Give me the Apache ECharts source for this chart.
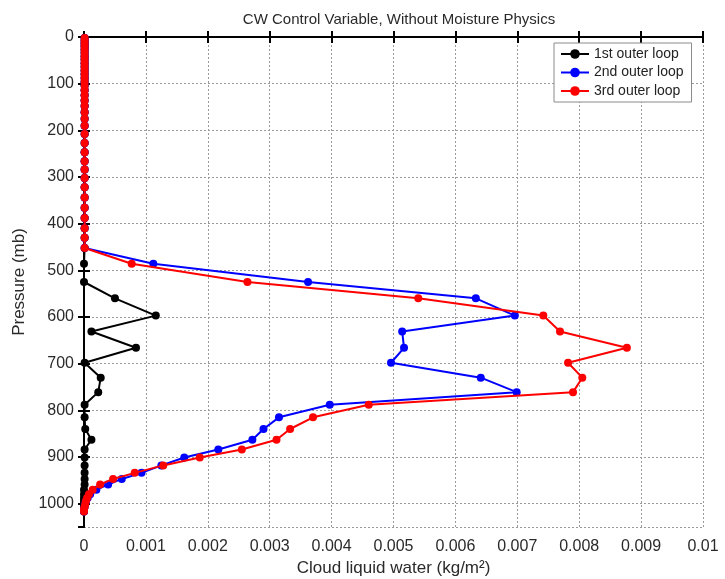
<!DOCTYPE html>
<html>
<head>
<meta charset="utf-8">
<script src="https://cdn.jsdelivr.net/npm/echarts@6/dist/echarts.min.js"></script>
<style>
  html, body { margin: 0; padding: 0; background: #fff; }
  #chart { width: 725px; height: 579px; }
</style>
</head>
<body>
<div id="chart"></div>
<script>
// Pressure levels (mb), shared by all three outer-loop profiles
const pressureLevels = [
  2, 8, 14, 20, 27, 34, 41, 48, 56, 64, 72, 80, 88, 96,
  104, 114, 125, 136, 148, 161, 175, 190, 208, 227, 247, 266, 284, 302,
  322, 344, 366, 388, 410, 430, 452,
  486, 525, 560, 597, 631, 666, 698, 730, 761, 788, 815, 840, 863, 884,
  901, 918, 934, 947, 959, 970, 980, 988, 995, 1001, 1007, 1012, 1017
];

// Cloud liquid water (kg/m^2) at each level
const loop1 = [
  0.00001, 0.00001, 0.00001, 0.00001, 0.00001, 0.00001, 0.00001, 0.00001, 0.00001, 0.00001, 0.00001, 0.00001, 0.00001, 0.00001,
  0.00001, 0.00001, 0.00001, 0.00001, 0.00001, 0.00001, 0.00001, 0.00001, 0.00001, 0.00001, 0.00001, 0.00001, 0.00001, 0.00001,
  0.00001, 0.00001, 0.00001, 0.00001, 0.00001, 0.00001, 0.00001,
  0, 0, 0.0005, 0.00116, 0.00012, 0.00084, 0.00001, 0.00027, 0.00023, 0.00001, 0.00001, 0.00002, 0.00012, 0.00001,
  0.00001, 0.00001, 0.00001, 0.00001, 0.00001, 0, 0, 0, 0, 0, 0, 0, 0
];
const loop2 = [
  0.00001, 0.00001, 0.00001, 0.00001, 0.00001, 0.00001, 0.00001, 0.00001, 0.00001, 0.00001, 0.00001, 0.00001, 0.00001, 0.00001,
  0.00001, 0.00001, 0.00001, 0.00001, 0.00001, 0.00001, 0.00001, 0.00001, 0.00001, 0.00001, 0.00001, 0.00001, 0.00001, 0.00001,
  0.00001, 0.00001, 0.00001, 0.00001, 0.00001, 0.00001, 0.00001,
  0.00112, 0.00362, 0.00633, 0.00696, 0.00514, 0.00517, 0.00496, 0.00641, 0.00699, 0.00397, 0.00315, 0.0029, 0.00272, 0.00217,
  0.00162, 0.00125, 0.00093, 0.00061, 0.00039, 0.0002, 0.0001, 0.00006, 0.00003, 0.00002, 0.00001, 0, 0
];
const loop3 = [
  0.00001, 0.00001, 0.00001, 0.00001, 0.00001, 0.00001, 0.00001, 0.00001, 0.00001, 0.00001, 0.00001, 0.00001, 0.00001, 0.00001,
  0.00001, 0.00001, 0.00001, 0.00001, 0.00001, 0.00001, 0.00001, 0.00001, 0.00001, 0.00001, 0.00001, 0.00001, 0.00001, 0.00001,
  0.00001, 0.00001, 0.00001, 0.00001, 0.00001, 0.00001, 0.00001,
  0.00077, 0.00264, 0.0054, 0.00742, 0.00769, 0.00877, 0.00782, 0.00805, 0.0079, 0.0046, 0.0037, 0.00333, 0.00311, 0.00255,
  0.00187, 0.00128, 0.00082, 0.00047, 0.00026, 0.00014, 0.00008, 0.00005, 0.00003, 0.00002, 0.00001, 0, 0
];

const seriesNames = ['1st outer loop', '2nd outer loop', '3rd outer loop'];
const seriesColors = ['#000000', '#0000ff', '#ff0000'];
const seriesValues = [loop1, loop2, loop3];

const FONT = '"Liberation Sans", Arial, Helvetica, sans-serif';

function profile(values) {
  return values.map((v, i) => [v, pressureLevels[i]]);
}

const gridStyle = { show: true, lineStyle: { color: '#9a9a9a', type: [2, 2], width: 1 } };
const frameLine = { show: true, lineStyle: { color: '#000', width: 2 } };
const innerTick = { show: true, inside: true, length: 6, lineStyle: { color: '#000', width: 2 } };

const chart = echarts.init(document.getElementById('chart'));
chart.setOption({
  animation: false,
  backgroundColor: '#fff',
  title: {
    text: 'CW Control Variable, Without Moisture Physics',
    left: 394,
    top: 7,
    textAlign: 'center',
    textStyle: { fontFamily: FONT, fontSize: 15, fontWeight: 'normal', color: '#2a2a2a' }
  },
  grid: { left: 84, right: 22, top: 37, bottom: 52, outerBoundsMode: 'none', containLabel: false },
  legend: {
    data: seriesNames,
    orient: 'vertical',
    left: 554,
    top: 43,
    padding: [4, 8, 4, 6],
    itemWidth: 28,
    itemHeight: 12,
    itemGap: 4.5,
    backgroundColor: '#fff',
    borderColor: '#8a8a8a',
    borderWidth: 1,
    textStyle: { fontFamily: FONT, fontSize: 14, color: '#222' }
  },
  xAxis: [
    {
      type: 'value',
      min: 0,
      max: 0.01,
      interval: 0.001,
      name: 'Cloud liquid water (kg/m²)',
      nameLocation: 'middle',
      nameGap: 33,
      nameTextStyle: { fontFamily: FONT, fontSize: 17, color: '#2a2a2a' },
      axisLine: frameLine,
      axisTick: innerTick,
      splitLine: gridStyle,
      axisLabel: {
        fontFamily: FONT, fontSize: 16, color: '#2a2a2a', margin: 12,
        formatter: v => (Math.abs(v) < 1e-12 ? '0' : String(+v.toFixed(3)))
      }
    },
    {
      type: 'value',
      position: 'top',
      min: 0,
      max: 0.01,
      interval: 0.001,
      axisLine: frameLine,
      axisTick: innerTick,
      axisLabel: { show: false },
      splitLine: { show: false }
    }
  ],
  yAxis: [
    {
      type: 'value',
      inverse: true,
      min: 0,
      max: 1050,
      interval: 100,
      name: 'Pressure (mb)',
      nameLocation: 'middle',
      nameGap: 53,
      nameRotate: 90,
      nameTextStyle: { fontFamily: FONT, fontSize: 17, color: '#2a2a2a' },
      axisLine: frameLine,
      axisTick: innerTick,
      splitLine: gridStyle,
      axisLabel: {
        fontFamily: FONT, fontSize: 16, color: '#2a2a2a', margin: 10,
        showMaxLabel: false,
        formatter: v => (v % 100 === 0 ? String(v) : '')
      }
    },
    {
      type: 'value',
      position: 'right',
      inverse: true,
      min: 0,
      max: 1050,
      interval: 100,
      axisLine: frameLine,
      axisTick: innerTick,
      axisLabel: { show: false },
      splitLine: { show: false }
    }
  ],
  series: seriesNames.map((name, k) => ({
    name,
    type: 'line',
    xAxisIndex: 0,
    yAxisIndex: 0,
    data: profile(seriesValues[k]),
    color: seriesColors[k],
    lineStyle: { color: seriesColors[k], width: 2 },
    itemStyle: { color: seriesColors[k] },
    symbol: 'circle',
    symbolSize: 8,
    showSymbol: true,
    clip: false,
    z: 3 + k
  }))
});
</script>
</body>
</html>
